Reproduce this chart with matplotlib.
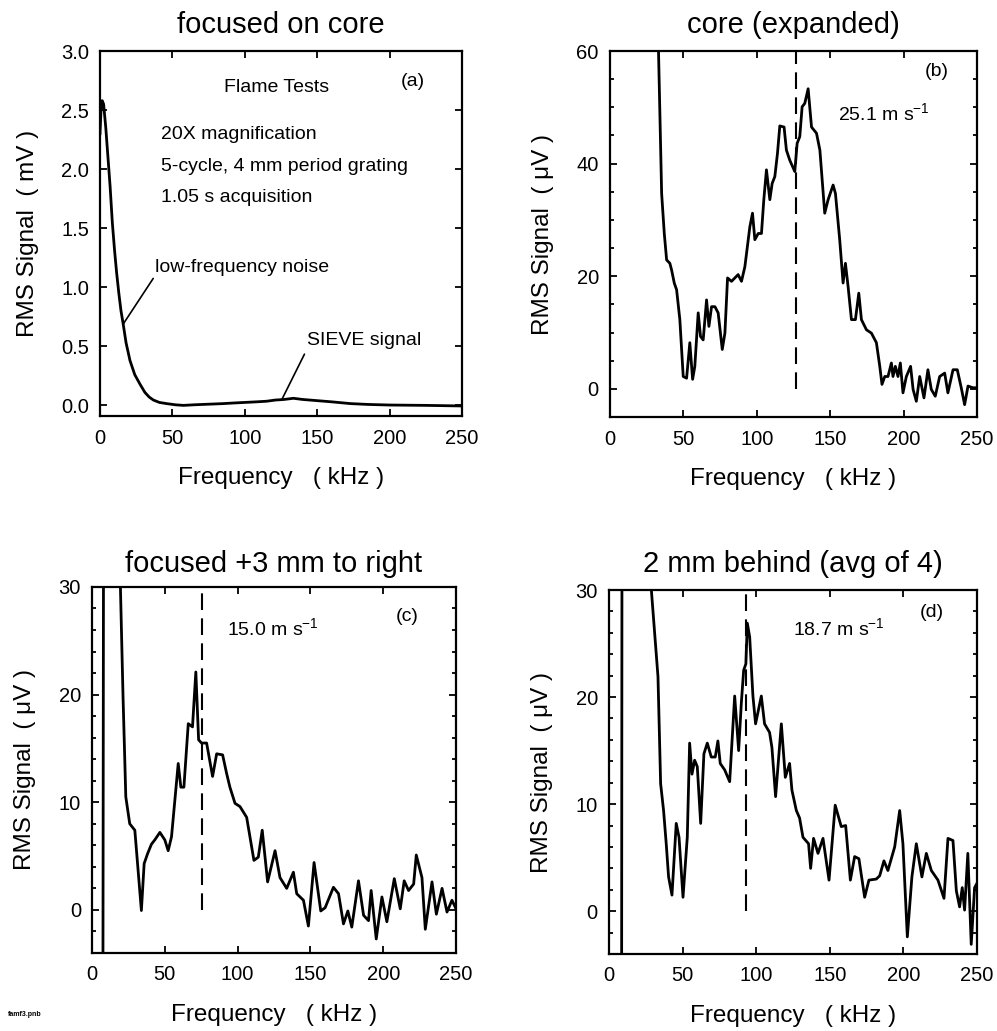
import numpy as np
import matplotlib
matplotlib.use("Agg")
import matplotlib.pyplot as plt
from matplotlib.ticker import MultipleLocator, NullLocator

plt.rcParams["font.family"] = ["Liberation Sans", "DejaVu Sans"]
plt.rcParams["mathtext.default"] = "regular"

# ---- data ----
# (a) focused on core, mV
freq_a = [0, 0.7, 1.5, 2.5, 4, 5.5, 7, 8.5, 10, 11.5, 13, 14.5, 16, 18, 20.7, 24,
          27.6, 31, 34, 36.9, 41, 46, 52, 57.6, 65, 75, 85, 92, 100, 108, 115,
          121, 127, 133.6, 140, 150, 160, 173, 185, 200, 225, 250]
rms_a = [2.3, 2.5, 2.58, 2.55, 2.35, 2.1, 1.85, 1.55, 1.32, 1.12, 0.95, 0.8, 0.69,
         0.53, 0.38, 0.26, 0.18, 0.11, 0.07, 0.045, 0.025, 0.015, 0.005, 0.0,
         0.005, 0.01, 0.015, 0.02, 0.025, 0.03, 0.035, 0.045, 0.05, 0.06, 0.05,
         0.04, 0.03, 0.015, 0.008, 0.003, 0.0, -0.005]

# (b) core (expanded), uV
freq_b = [32.9, 35.2, 37, 38.6, 40.8, 42, 43.8, 45.4, 47.6, 49.9, 52.2, 54.4, 56.3,
          57.8, 60.1, 61.7, 63.5, 65.8, 67.4, 69.2, 71.5, 73.7, 76.5, 78.3, 80.1,
          82.8, 87.3, 89.6, 91.9, 95.3, 97.1, 98.7, 101, 103.2, 104.8, 106.6, 108.9,
          110.5, 112.3, 114.1, 115.7, 118.6, 120.2, 122.5, 125.9, 127.5, 129.3,
          130.9, 132.7, 135, 137.3, 140.7, 143, 146.3, 148.6, 152, 153.6, 156.5,
          158.8, 160.4, 162.2, 164.5, 167.2, 169.5, 171.3, 174.7, 178.1, 181.5,
          183.8, 185.3, 187.2, 189.4, 191.7, 192.8, 194.4, 196.2, 197.8, 199.6,
          201.9, 204.8, 206.5, 208.7, 211, 213.9, 216.6, 218.9, 221.6, 224.6, 228,
          230.2, 233.7, 236.6, 239.3, 241.6, 243.9, 247.3, 250]
rms_b = [62, 34.7, 27.6, 22.9, 22.3, 21.1, 18.8, 17.6, 12.3, 2.2, 1.9, 8.2, 1.7,
         4.0, 13.5, 9.3, 8.7, 15.8, 11.1, 14.6, 14.6, 13.5, 7.0, 9.9, 19.7, 19.1,
         20.3, 19.1, 21.7, 28.8, 31.2, 26.5, 27.6, 27.6, 33.6, 38.9, 33.6, 36.5,
         37.7, 41.8, 46.7, 46.5, 42.4, 40.6, 38.6, 43.6, 44.8, 50.1, 50.7, 53.3,
         46.5, 45.4, 42.4, 31.2, 33.6, 36.2, 34.7, 26.5, 18.8, 22.3, 18.2, 12.3,
         12.3, 17.0, 12.3, 10.5, 9.9, 8.2, 4.0, 0.8, 2.2, 2.2, 4.6, 2.2, 4.0, 2.2,
         4.6, -0.7, 2.2, 4.0, -0.1, -2.2, 2.2, -1.6, 3.4, -0.1, -1.3, 2.2, 2.8,
         -0.7, 3.4, 3.4, 0.2, -2.8, 0.5, 0.2, 0.2]

# (c) focused +3 mm to right, uV
freq_c = [7.5, 8.0, 19.0, 19.5, 21.3, 23.2, 25.9, 29.4, 33.9, 35.8, 38.1, 40.8,
          43.1, 46.6, 50, 52.3, 54.6, 59.2, 61, 63.1, 66.1, 69, 71.3, 73.2, 75.2,
          78.7, 82.8, 85.6, 89.7, 92.4, 94.7, 98.2, 101.6, 106.2, 111.2, 114.2,
          116.9, 120.6, 125.7, 129.1, 133.7, 138.3, 140.6, 145.2, 148.6, 152.5,
          157.1, 160.1, 165.8, 169.3, 172.7, 175.7, 178.4, 183, 186.5, 189.9,
          191.7, 195.2, 199.1, 202.5, 207.6, 211.7, 214.4, 217.4, 220.9, 222.7,
          226.6, 228.9, 233.5, 236.5, 240.4, 243.8, 247.2, 250]
rms_c = [-6, 45, 45, 30, 19.8, 10.5, 8.0, 7.4, -0.06, 4.3, 5.2, 6.1, 6.5, 7.2,
         6.5, 5.5, 6.8, 13.6, 11.4, 11.4, 17.3, 17.0, 22.1, 15.8, 15.5, 15.5,
         12.4, 14.5, 14.4, 12.7, 11.4, 9.9, 9.6, 8.6, 4.6, 4.9, 7.4, 2.6, 5.5, 3.0,
         2.0, 3.5, 1.5, 0.9, -1.5, 4.4, -0.1, 0.2, 2.1, 1.5, -1.3, -0.1, -1.6, 2.7,
         -0.5, -1.0, 1.8, -2.7, 1.2, -1.1, 2.9, 0.1, 2.7, 1.8, 2.4, 5.1, 3.0,
         -1.8, 2.6, -0.4, 2.0, -0.2, 0.9, 0.1]

# (d) 2 mm behind (avg of 4), uV
freq_d = [8.6, 8.9, 28.0, 28.8, 33.3, 35.1, 37.1, 38.9, 40.5, 42.8, 45.7, 47.6,
          50.3, 53.2, 54.8, 56.4, 58.2, 60, 62.3, 64.5, 66.8, 69.5, 72.2, 74, 75.6,
          78.6, 82, 85.4, 88.1, 89.9, 91.5, 93, 94, 95.6, 97.8, 99.6, 103.5, 105.7,
          109.1, 110.7, 113.2, 117.1, 119.8, 122.7, 124.3, 127.3, 129.5, 131.8,
          135.6, 137, 139, 142, 145.4, 149.5, 153.7, 157.8, 160.8, 164, 166.9,
          169.8, 173.7, 176.6, 181.6, 183.9, 186.8, 189.5, 194.1, 197.5, 199.7,
          202.7, 205.8, 208.8, 212.6, 215.6, 219, 223.5, 227.6, 230.3, 233.7, 236,
          238.2, 240, 241.6, 243.8, 246.1, 248.4, 250]
rms_d = [-6, 45, 45, 30, 21.9, 11.9, 9.4, 6.3, 3.2, 1.5, 8.2, 6.9, 1.3, 6.9, 15.7,
         12.8, 14.1, 13.5, 8.2, 14.7, 15.7, 14.4, 14.4, 15.9, 13.8, 13.2, 12.1,
         20.1, 15.0, 19.4, 22.5, 23.1, 26.9, 25.6, 20.1, 17.5, 20.1, 17.5, 16.7,
         15.3, 10.7, 17.5, 12.5, 13.8, 11.3, 9.4, 8.7, 6.9, 6.3, 4.0, 6.8, 5.4,
         6.8, 2.9, 9.9, 7.9, 8.0, 2.9, 5.1, 4.9, 1.3, 2.9, 3.0, 3.3, 4.7, 3.8, 6.0,
         9.4, 6.3, -2.4, 3.2, 6.3, 3.2, 5.4, 3.8, 2.9, 1.2, 6.8, 6.6, 1.9, 0.4,
         2.2, 0.1, 5.4, -3.1, 2.2, 2.6]

# peak frequencies (dashed markers) and velocity labels
peak_b, peak_c, peak_d = 127, 75.7, 93.3
vel_b, vel_c, vel_d = "25.1", "15.0", "18.7"

fig = plt.figure(figsize=(9.97, 10.31), dpi=100)


def style_axes(ax, ymaj, ymin, xlim, ylim, ylabel, title, title_pad=13):
    ax.set_xlim(*xlim)
    ax.set_ylim(*ylim)
    ax.xaxis.set_major_locator(MultipleLocator(50))
    ax.xaxis.set_minor_locator(NullLocator())
    ax.yaxis.set_major_locator(MultipleLocator(ymaj))
    if ymin:
        ax.yaxis.set_minor_locator(MultipleLocator(ymin))
    else:
        ax.yaxis.set_minor_locator(NullLocator())
    ax.tick_params(which="both", direction="in", top=True, right=True, width=1.3)
    ax.tick_params(which="major", length=5, labelsize=14.5)
    ax.tick_params(axis="x", which="major", pad=9)
    ax.tick_params(axis="y", which="major", pad=8)
    ax.tick_params(which="minor", length=3)
    for s in ax.spines.values():
        s.set_linewidth(1.6)
    ax.set_xlabel("Frequency   ( kHz )", fontsize=17.5, labelpad=14)
    ax.set_ylabel(ylabel, fontsize=17.5, labelpad=16)
    ax.set_title(title, fontsize=21, pad=title_pad)


# (a)
ax = fig.add_axes([0.1003, 0.5965, 0.3631, 0.354])
ax.plot(freq_a, rms_a, color="black", lw=2)
style_axes(ax, 0.5, None, (0, 250), (-0.09, 3.0), "RMS Signal  ( mV )",
           "focused on core")
ax.set_yticklabels(["%.1f" % v for v in ax.get_yticks()])
ax.text(121.7, 2.69, "Flame Tests", fontsize=14, ha="center", va="center")
ax.text(216, 2.74, "(a)", fontsize=14, ha="center", va="center")
ax.text(42, 2.29, "20X magnification", fontsize=14, va="center")
ax.text(42, 2.02, "5-cycle, 4 mm period grating", fontsize=14, va="center")
ax.text(42, 1.76, "1.05 s acquisition", fontsize=14, va="center")
ax.annotate("low-frequency noise", xy=(16.1, 0.69), xytext=(38, 1.17),
            fontsize=14, va="center",
            arrowprops=dict(arrowstyle="-", color="black", lw=1.2,
                            shrinkA=0, shrinkB=0, relpos=(0, 0)))
ax.annotate("SIEVE signal", xy=(125.6, 0.05), xytext=(143, 0.55),
            fontsize=14, va="center",
            arrowprops=dict(arrowstyle="-", color="black", lw=1.2,
                            shrinkA=2, shrinkB=0, relpos=(0, 0)))

# (b)
ax = fig.add_axes([0.6118, 0.5955, 0.3681, 0.355])
ax.plot(freq_b, rms_b, color="black", lw=2)
ax.plot([peak_b, peak_b], [0, 60], color="black", lw=1.5, dashes=(8, 4))
style_axes(ax, 20, 5, (0, 250), (-5, 60), "RMS Signal  ( μV )",
           "core (expanded)")
ax.text(222.3, 56.3, "(b)", fontsize=14, ha="center", va="center")
ax.text(155.4, 48.9, vel_b + r" m s$^{-1}$", fontsize=14, va="center")

# (c)
ax = fig.add_axes([0.0923, 0.0757, 0.3651, 0.355])
ax.plot(freq_c, rms_c, color="black", lw=2)
ax.plot([peak_c, peak_c], [0, 30], color="black", lw=1.5, dashes=(8, 4))
style_axes(ax, 10, 2, (0, 250), (-4, 30), "RMS Signal  ( μV )",
           "focused +3 mm to right", title_pad=11)
ax.text(216.7, 27.3, "(c)", fontsize=14, ha="center", va="center")
ax.text(92.4, 26.2, vel_c + r" m s$^{-1}$", fontsize=14, va="center")

# (d)
ax = fig.add_axes([0.6108, 0.0747, 0.3691, 0.353])
ax.plot(freq_d, rms_d, color="black", lw=2)
ax.plot([peak_d, peak_d], [0, 30], color="black", lw=1.5, dashes=(8, 4))
style_axes(ax, 10, 2, (0, 250), (-4, 30), "RMS Signal  ( μV )",
           "2 mm behind (avg of 4)")
ax.text(219, 27.9, "(d)", fontsize=14, ha="center", va="center")
ax.text(125, 26.4, vel_d + r" m s$^{-1}$", fontsize=14, va="center")

fig.text(0.008, 0.015, "famf3.pnb", fontsize=5, fontweight="bold")

fig.savefig("out.png", dpi=100)
